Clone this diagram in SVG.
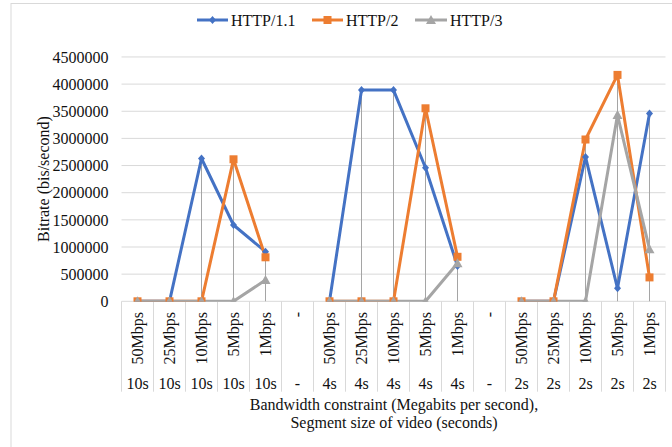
<svg xmlns="http://www.w3.org/2000/svg" width="672" height="447" viewBox="0 0 672 447">
  <style>
    .txt { font-family: "Liberation Serif", "Times New Roman", serif; font-size: 16px; fill: #111111; }
    .ylab { text-anchor: end; }
    .cat { text-anchor: end; }
    .seg { text-anchor: middle; }
    .grid { stroke: #d9d9d9; stroke-width: 1; fill: none; }
    .drop { stroke: #a5a5a5; stroke-width: 1; fill: none; }
    .s1 { stroke: #4472c4; stroke-width: 3; fill: none; stroke-linejoin: round; }
    .s2 { stroke: #ed7d31; stroke-width: 3; fill: none; stroke-linejoin: round; }
    .s3 { stroke: #a5a5a5; stroke-width: 3; fill: none; stroke-linejoin: round; }
  </style>
  <defs>
    <path id="mk-diamond" d="M0,-4 L3.5,0 L0,4 L-3.5,0 Z" fill="#4472c4"/>
    <rect id="mk-square" x="-4" y="-4" width="8" height="8" fill="#ed7d31"/>
    <path id="mk-triangle" d="M0,-5 L5,4 L-5,4 Z" fill="#a5a5a5"/>
    <clipPath id="plot-clip">
      <rect x="110" y="40" width="570" height="261.8"/>
    </clipPath>
  </defs>

  <rect x="0" y="0" width="672" height="447" fill="#ffffff"/>
  <!-- chart frame -->
  <rect x="11" y="3.5" width="700" height="460" fill="none" stroke="#d9d9d9" stroke-width="1"/>

  <!-- legend -->
  <g id="legend">
    <g id="legend-http11">
      <line x1="197" y1="20" x2="228" y2="20" class="s1"/>
      <use href="#mk-diamond" x="212.5" y="20"/>
      <text x="231" y="25.5" class="txt">HTTP/1.1</text>
    </g>
    <g id="legend-http2">
      <line x1="312" y1="20" x2="343" y2="20" class="s2"/>
      <use href="#mk-square" x="327.5" y="20"/>
      <text x="346" y="25.5" class="txt">HTTP/2</text>
    </g>
    <g id="legend-http3">
      <line x1="415" y1="20" x2="447" y2="20" class="s3"/>
      <use href="#mk-triangle" x="431" y="20"/>
      <text x="450" y="25.5" class="txt">HTTP/3</text>
    </g>
  </g>

  <!-- value axis gridlines and labels -->
  <g id="value-axis">
    <path class="grid" d="M121.5,274.15H665.5 M121.5,247H665.5 M121.5,219.85H665.5 M121.5,192.7H665.5 M121.5,165.55H665.5 M121.5,138.4H665.5 M121.5,111.25H665.5 M121.5,84.1H665.5 M121.5,56.95H665.5"/>
    <text class="txt ylab" x="108.5" y="307">0</text>
    <text class="txt ylab" x="108.5" y="279.8">500000</text>
    <text class="txt ylab" x="108.5" y="252.7">1000000</text>
    <text class="txt ylab" x="108.5" y="225.5">1500000</text>
    <text class="txt ylab" x="108.5" y="198.4">2000000</text>
    <text class="txt ylab" x="108.5" y="171.2">2500000</text>
    <text class="txt ylab" x="108.5" y="144.1">3000000</text>
    <text class="txt ylab" x="108.5" y="116.9">3500000</text>
    <text class="txt ylab" x="108.5" y="89.8">4000000</text>
    <text class="txt ylab" x="108.5" y="62.6">4500000</text>
    <text class="txt" text-anchor="middle" transform="translate(49,179) rotate(-90)">Bitrate (bis/second)</text>
  </g>

  <!-- category axis: two-level label table -->
  <g id="category-axis">
    <path class="grid" d="M121.5,301.3H665.5 M121.5,301.3V391.7 M153.5,301.3V391.7 M185.5,301.3V391.7 M217.5,301.3V391.7 M249.5,301.3V391.7 M281.5,301.3V391.7 M313.5,301.3V391.7 M345.5,301.3V391.7 M377.5,301.3V391.7 M409.5,301.3V391.7 M441.5,301.3V391.7 M473.5,301.3V391.7 M505.5,301.3V391.7 M537.5,301.3V391.7 M569.5,301.3V391.7 M601.5,301.3V391.7 M633.5,301.3V391.7 M665.5,301.3V391.7"/>
    <text class="txt cat" transform="translate(143,312) rotate(-90)">50Mbps</text>
    <text class="txt cat" transform="translate(175,312) rotate(-90)">25Mbps</text>
    <text class="txt cat" transform="translate(207,312) rotate(-90)">10Mbps</text>
    <text class="txt cat" transform="translate(239,312) rotate(-90)">5Mbps</text>
    <text class="txt cat" transform="translate(271,312) rotate(-90)">1Mbps</text>
    <text class="txt cat" transform="translate(303,312) rotate(-90)">-</text>
    <text class="txt cat" transform="translate(335,312) rotate(-90)">50Mbps</text>
    <text class="txt cat" transform="translate(367,312) rotate(-90)">25Mbps</text>
    <text class="txt cat" transform="translate(399,312) rotate(-90)">10Mbps</text>
    <text class="txt cat" transform="translate(431,312) rotate(-90)">5Mbps</text>
    <text class="txt cat" transform="translate(463,312) rotate(-90)">1Mbps</text>
    <text class="txt cat" transform="translate(495,312) rotate(-90)">-</text>
    <text class="txt cat" transform="translate(527,312) rotate(-90)">50Mbps</text>
    <text class="txt cat" transform="translate(559,312) rotate(-90)">25Mbps</text>
    <text class="txt cat" transform="translate(591,312) rotate(-90)">10Mbps</text>
    <text class="txt cat" transform="translate(623,312) rotate(-90)">5Mbps</text>
    <text class="txt cat" transform="translate(655,312) rotate(-90)">1Mbps</text>

    <text class="txt seg" x="137.5" y="388.5">10s</text>
    <text class="txt seg" x="169.5" y="388.5">10s</text>
    <text class="txt seg" x="201.5" y="388.5">10s</text>
    <text class="txt seg" x="233.5" y="388.5">10s</text>
    <text class="txt seg" x="265.5" y="388.5">10s</text>
    <text class="txt seg" x="297.5" y="388.5">-</text>
    <text class="txt seg" x="329.5" y="388.5">4s</text>
    <text class="txt seg" x="361.5" y="388.5">4s</text>
    <text class="txt seg" x="393.5" y="388.5">4s</text>
    <text class="txt seg" x="425.5" y="388.5">4s</text>
    <text class="txt seg" x="457.5" y="388.5">4s</text>
    <text class="txt seg" x="489.5" y="388.5">-</text>
    <text class="txt seg" x="521.5" y="388.5">2s</text>
    <text class="txt seg" x="553.5" y="388.5">2s</text>
    <text class="txt seg" x="585.5" y="388.5">2s</text>
    <text class="txt seg" x="617.5" y="388.5">2s</text>
    <text class="txt seg" x="649.5" y="388.5">2s</text>

    <text class="txt seg" x="394" y="410">Bandwidth constraint (Megabits per second),</text>
    <text class="txt seg" x="394" y="428">Segment size of video (seconds)</text>
  </g>

  <!-- connectors: drop lines and series lines -->
  <g id="connectors" clip-path="url(#plot-clip)">
    <path class="drop" d="M201.5,158.5V301.3 M233.5,159.3V301.3 M265.5,251.7V301.3 M361.5,90.1V301.3 M393.5,90.1V301.3 M425.5,108.3V301.3 M457.5,256.8V301.3 M585.5,139.5V301.3 M617.5,74.9V301.3 M649.5,113.4V301.3"/>
    <path id="line-http11" class="s1" d="M137.5,301.3 L169.5,301.3 L201.5,158.5 L233.5,225 L265.5,251.7 M329.5,301.3 L361.5,90.1 L393.5,90.1 L425.5,167.7 L457.5,266 M521.5,301.3 L553.5,301.3 L585.5,156.9 L617.5,288.3 L649.5,113.4"/>
    <path id="line-http2" class="s2" d="M137.5,301.3 L169.5,301.3 L201.5,301.3 L233.5,159.3 L265.5,257.3 M329.5,301.3 L361.5,301.3 L393.5,301.3 L425.5,108.3 L457.5,256.8 M521.5,301.3 L553.5,301.3 L585.5,139.5 L617.5,74.9 L649.5,277.4"/>
    <path id="line-http3" class="s3" d="M137.5,301.3 L169.5,301.3 L201.5,301.3 L233.5,301.3 L265.5,280.1 M329.5,301.3 L361.5,301.3 L393.5,301.3 L425.5,301.3 L457.5,263.3 M521.5,301.3 L553.5,301.3 L585.5,301.3 L617.5,115.1 L649.5,249.2"/>
  </g>

  <!-- data point markers -->
  <g id="points-http11" clip-path="url(#plot-clip)">
    <use href="#mk-diamond" x="137.5" y="301.3"/>
    <use href="#mk-diamond" x="169.5" y="301.3"/>
    <use href="#mk-diamond" x="201.5" y="158.5"/>
    <use href="#mk-diamond" x="233.5" y="225"/>
    <use href="#mk-diamond" x="265.5" y="251.7"/>
    <use href="#mk-diamond" x="329.5" y="301.3"/>
    <use href="#mk-diamond" x="361.5" y="90.1"/>
    <use href="#mk-diamond" x="393.5" y="90.1"/>
    <use href="#mk-diamond" x="425.5" y="167.7"/>
    <use href="#mk-diamond" x="457.5" y="266"/>
    <use href="#mk-diamond" x="521.5" y="301.3"/>
    <use href="#mk-diamond" x="553.5" y="301.3"/>
    <use href="#mk-diamond" x="585.5" y="156.9"/>
    <use href="#mk-diamond" x="617.5" y="288.3"/>
    <use href="#mk-diamond" x="649.5" y="113.4"/>
  </g>
  <g id="points-http2" clip-path="url(#plot-clip)">
    <use href="#mk-square" x="137.5" y="301.3"/>
    <use href="#mk-square" x="169.5" y="301.3"/>
    <use href="#mk-square" x="201.5" y="301.3"/>
    <use href="#mk-square" x="233.5" y="159.3"/>
    <use href="#mk-square" x="265.5" y="257.3"/>
    <use href="#mk-square" x="329.5" y="301.3"/>
    <use href="#mk-square" x="361.5" y="301.3"/>
    <use href="#mk-square" x="393.5" y="301.3"/>
    <use href="#mk-square" x="425.5" y="108.3"/>
    <use href="#mk-square" x="457.5" y="256.8"/>
    <use href="#mk-square" x="521.5" y="301.3"/>
    <use href="#mk-square" x="553.5" y="301.3"/>
    <use href="#mk-square" x="585.5" y="139.5"/>
    <use href="#mk-square" x="617.5" y="74.9"/>
    <use href="#mk-square" x="649.5" y="277.4"/>
  </g>
  <g id="points-http3" clip-path="url(#plot-clip)">
    <use href="#mk-triangle" x="137.5" y="301.3"/>
    <use href="#mk-triangle" x="169.5" y="301.3"/>
    <use href="#mk-triangle" x="201.5" y="301.3"/>
    <use href="#mk-triangle" x="233.5" y="301.3"/>
    <use href="#mk-triangle" x="265.5" y="280.1"/>
    <use href="#mk-triangle" x="329.5" y="301.3"/>
    <use href="#mk-triangle" x="361.5" y="301.3"/>
    <use href="#mk-triangle" x="393.5" y="301.3"/>
    <use href="#mk-triangle" x="425.5" y="301.3"/>
    <use href="#mk-triangle" x="457.5" y="263.3"/>
    <use href="#mk-triangle" x="521.5" y="301.3"/>
    <use href="#mk-triangle" x="553.5" y="301.3"/>
    <use href="#mk-triangle" x="585.5" y="301.3"/>
    <use href="#mk-triangle" x="617.5" y="115.1"/>
    <use href="#mk-triangle" x="649.5" y="249.2"/>
  </g>
</svg>
